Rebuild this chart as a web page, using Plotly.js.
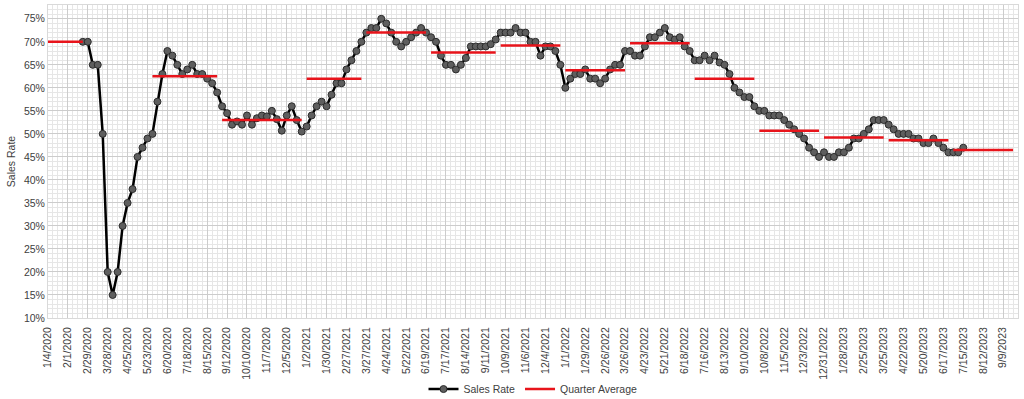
<!DOCTYPE html>
<html>
<head>
<meta charset="utf-8">
<script src="https://cdn.plot.ly/plotly-3.0.1.min.js"></script>
<style>html,body{margin:0;padding:0;background:#fff;}#chart{width:1024px;height:399px;}</style>
</head>
<body>
<div id="chart"></div>
<script>
// Weekly sales rate (%), first week 2020-02-22
const salesStart = '2020-02-22';
const salesRate = [
  70,70,65,65,50,20,15,20,30,35,38,45,47,49,
  50,57,63,68,67,65,63,64,65,63,63,62,61,59,
  56,54.5,52,52.7,52,54,52,53.4,54,53.8,55,53.2,50.7,54,56,53,50.5,
  51.6,54,56,57,56,58.5,61,61,64,66,68,70,
  72,73,73,75,74,72,70,69,70,71,72,73,72,
  71,70,67,65,65,64,65,66.5,69,69,69,69,69.5,70.5,
  72,72,72,73,72,72,70,70,67,69,69,68,65,
  60,62,63,63,64,62,62,61,62,64,65,65,68,
  68,67,67,69,71,71,72,73,71,70.5,71,69,68,
  66,66,67,66,67,65.5,65,63,60,59,58,58,56,
  55,55,54,54,54,53,52,51,50,49,47,46,45,
  46,45,45,46,46,47,49,49,50,51,53,53,53,
  52,51,50,50,50,49,49,48,48,49,48,47,46,
  46,46,47
];

// Quarter averages (%), each drawn from first to last week
const quarterFrom = ['2020-01-04','2020-05-30','2020-09-05','2021-01-02','2021-03-27','2021-06-26','2021-10-02','2022-01-01','2022-04-02','2022-07-02','2022-10-01','2022-12-31','2023-04-01','2023-07-01'];
const quarterTo   = ['2020-02-22','2020-08-29','2020-12-26','2021-03-20','2021-06-19','2021-09-25','2021-12-25','2022-03-26','2022-06-25','2022-09-24','2022-12-24','2023-03-25','2023-06-24','2023-09-23'];
const quarterAvg  = [70,62.5,53,62,72,67.7,69.2,63.8,69.7,62,50.7,49.2,48.6,46.5];

const axisStart = '2020-01-04';
const axisEnd = '2023-09-30';

function addWeeks(iso, n) {
  const d = new Date(iso + 'T00:00:00Z');
  d.setUTCDate(d.getUTCDate() + 7 * n);
  return d.toISOString().slice(0, 10);
}

const salesX = salesRate.map((_, i) => addWeeks(salesStart, i));

const qx = [], qy = [];
quarterAvg.forEach((v, i) => {
  qx.push(quarterFrom[i], quarterTo[i], null);
  qy.push(v, v, null);
});

const WEEK = 7 * 86400000;
const font = {family: 'Liberation Sans, Arial, sans-serif', color: '#404040', size: 10.5};

const traces = [
  {
    x: salesX, y: salesRate, name: 'Sales Rate', type: 'scatter', mode: 'lines+markers',
    line: {color: '#000000', width: 2.5},
    marker: {size: 7, color: '#5e5e5e', line: {color: '#2b2b2b', width: 1}}
  },
  {
    x: qx, y: qy, name: 'Quarter Average', type: 'scatter', mode: 'lines',
    line: {color: '#e8141b', width: 2.5}, connectgaps: false
  }
];

const layout = {
  width: 1024, height: 399,
  margin: {l: 48, r: 6, t: 5, b: 81, autoexpand: false},
  paper_bgcolor: '#ffffff', plot_bgcolor: '#ffffff',
  font: font,
  showlegend: true,
  legend: {orientation: 'h', x: 0.5, xanchor: 'center', y: -0.227, yanchor: 'middle',
           font: {size: 10.5, color: '#404040'}, itemwidth: 30, tracegroupgap: 0},
  xaxis: {
    type: 'date', range: [axisStart, axisEnd], automargin: false,
    tick0: axisStart, dtick: 4 * WEEK, tickformat: '%-m/%-d/%Y', tickangle: -90,
    tickfont: {size: 10.5, color: '#404040'},
    showgrid: true, gridcolor: '#cccccc', gridwidth: 1,
    minor: {tick0: axisStart, dtick: WEEK, showgrid: true, gridcolor: '#e6e6e6', gridwidth: 1},
    showline: true, linecolor: '#d9d9d9', mirror: true, zeroline: false,
    ticks: 'outside', ticklen: 4, tickcolor: 'rgba(0,0,0,0)'
  },
  yaxis: {
    range: [10, 78], tick0: 10, dtick: 5, ticksuffix: '%', automargin: false,
    tickfont: {size: 10.5, color: '#404040'},
    title: {text: 'Sales Rate', font: {size: 10.5, color: '#404040'}, standoff: 6},
    showgrid: true, gridcolor: '#cccccc', gridwidth: 1,
    minor: {tick0: 10, dtick: 1, showgrid: true, gridcolor: '#e6e6e6', gridwidth: 1},
    showline: true, linecolor: '#d9d9d9', mirror: true, zeroline: false, ticks: ''
  }
};

Plotly.newPlot('chart', traces, layout, {displayModeBar: false, staticPlot: true});
</script>
</body>
</html>
